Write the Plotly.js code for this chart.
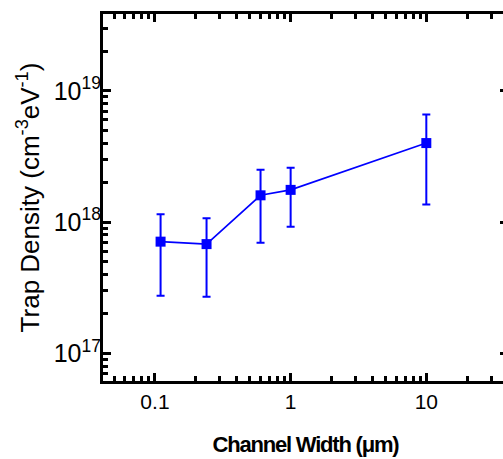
<!DOCTYPE html>
<html>
<head>
<meta charset="utf-8">
<script src="https://cdn.plot.ly/plotly-3.0.1.min.js"></script>
<style>
html, body { margin: 0; padding: 0; overflow: hidden; background: #fff; }
#chart { width: 520px; height: 459px; }
.xtitle { letter-spacing: -1.2px; }
</style>
</head>
<body>
<div id="chart"></div>
<script>
// Data
const channelWidth = [0.11, 0.24, 0.6, 1, 10];            // µm
const trapDensity  = [7.1e17, 6.8e17, 1.6e18, 1.76e18, 4.0e18]; // cm^-3 eV^-1
const errUpperEnd  = [1.15e18, 1.07e18, 2.5e18, 2.6e18, 6.6e18];
const errLowerEnd  = [2.75e17, 2.7e17, 6.95e17, 9.2e17, 1.36e18];

const xTickVals = [0.1, 1, 10];
const xTickText = ['0.1', '1', '10'];
const yTickVals = [1e17, 1e18, 1e19];
const yTickText = ['10<sup>17</sup>', '10<sup>18</sup>', '10<sup>19</sup>'];

const plus  = trapDensity.map((v, i) => errUpperEnd[i] - v);
const minus = trapDensity.map((v, i) => v - errLowerEnd[i]);

const trace = {
  x: channelWidth,
  y: trapDensity,
  type: 'scatter',
  mode: 'lines+markers',
  line: { color: '#0000ff', width: 1.6 },
  marker: { symbol: 'square', size: 10, color: '#0000ff' },
  error_y: {
    type: 'data', symmetric: false,
    array: plus, arrayminus: minus,
    color: '#0000ff', thickness: 2, width: 4
  },
  showlegend: false,
  hoverinfo: 'x+y'
};

const axisCommon = {
  type: 'log',
  showline: true, linecolor: '#000', linewidth: 3,
  mirror: 'ticks',
  ticks: 'inside', ticklen: 8, tickwidth: 3, tickcolor: '#000',
  showgrid: false, zeroline: false,
  minor: { dtick: 'D1', ticks: 'inside', ticklen: 5, tickwidth: 3, tickcolor: '#000', showgrid: false }
};

const layout = {
  width: 520, height: 459,
  margin: { l: 103, r: 12, t: 14, b: 78 },
  paper_bgcolor: '#fff', plot_bgcolor: '#fff',
  font: { family: 'Liberation Sans, Arial, sans-serif', color: '#000' },
  xaxis: Object.assign({}, axisCommon, {
    range: [-1.383, 1.602],
    tickmode: 'array', tickvals: xTickVals, ticktext: xTickText,
    tickfont: { size: 21, family: 'Liberation Sans, Arial, sans-serif', color: '#000' },
    title: { text: 'Channel Width (μm)', font: { size: 22, weight: 'bold', family: 'Liberation Sans, Arial, sans-serif', color: '#000' }, standoff: 25 }
  }),
  yaxis: Object.assign({}, axisCommon, {
    range: [16.79, 19.585],
    tickmode: 'array', tickvals: yTickVals, ticktext: yTickText,
    ticklabelstandoff: -6,
    tickfont: { size: 25, family: 'Liberation Sans, Arial, sans-serif', color: '#000' },
    title: { text: 'Trap Density (cm<sup>-3</sup>eV<sup>-1</sup>)', font: { size: 26, family: 'Liberation Sans, Arial, sans-serif', color: '#000' }, standoff: 7 }
  })
};

Plotly.newPlot('chart', [trace], layout, { displayModeBar: false, staticPlot: true });
</script>
</body>
</html>
